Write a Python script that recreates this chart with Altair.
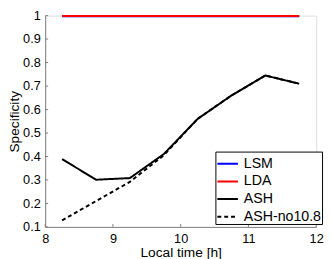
import altair as alt
import pandas as pd

hours = [8.25, 8.75, 9.25, 9.75, 10.25, 10.75, 11.25, 11.75]
lsm = [0.997, 0.997, 0.997, 0.997, 0.997, 0.997, 0.997, 0.997]
lda = [0.998, 0.998, 0.998, 0.998, 0.998, 0.998, 0.998, 0.998]
ash = [0.389, 0.301, 0.308, 0.410, 0.560, 0.660, 0.745, 0.710]
ash_no = [0.128, 0.210, 0.292, 0.405, 0.560, 0.660, 0.745, 0.710]

series_names = ["LSM", "LDA", "ASH", "ASH-no10.8"]
series_colors = ["#0000ff", "#ff0000", "#000000", "#000000"]
x_ticks = [8, 9, 10, 11, 12]
y_ticks = [0.1, 0.2, 0.3, 0.4, 0.5, 0.6, 0.7, 0.8, 0.9, 1.0]

rows = []
for name, vals in zip(series_names, [lsm, lda, ash, ash_no]):
    for h, v in zip(hours, vals):
        rows.append({"hour": h, "spec": v, "series": name})
df = pd.DataFrame(rows)

W, H = 277, 216
LEFT = 38
TOP = 5
FONT = "Liberation Sans"
GRAY = "#808080"

xscale = alt.Scale(domain=[8, 12], nice=False, zero=False)
yscale = alt.Scale(domain=[0.1, 1.0], nice=False, zero=False)

xaxis = alt.Axis(values=x_ticks, format="~g", title="Local time [h]",
                 tickSize=0, labelPadding=6, grid=False,
                 labelOverlap=False, labelFlush=False,
                 domainColor=GRAY, labelFontSize=13, titleFontSize=14,
                 titleFontWeight="normal", titlePadding=0,
                 labelFont=FONT, titleFont=FONT, labelColor="black",
                 titleColor="black")
yaxis = alt.Axis(values=y_ticks, format="~g", title="Specificity",
                 tickSize=0, labelPadding=5, grid=False,
                 labelOverlap=False, labelFlush=False,
                 domainColor=GRAY, labelFontSize=13, titleFontSize=14,
                 titleFontWeight="normal", titlePadding=1,
                 labelFont=FONT, titleFont=FONT, labelColor="black",
                 titleColor="black")

lines = alt.Chart(df).mark_line(strokeWidth=2, clip=False).encode(
    x=alt.X("hour:Q", scale=xscale, axis=xaxis),
    y=alt.Y("spec:Q", scale=yscale, axis=yaxis),
    color=alt.Color("series:N",
                    scale=alt.Scale(domain=series_names, range=series_colors),
                    sort=series_names,
                    legend=alt.Legend(title=None, orient="none",
                                      legendX=174, legendY=144 - TOP,
                                      strokeColor="black",
                                      fillColor="white", padding=1,
                                      symbolType="stroke", symbolSize=441,
                                      symbolStrokeWidth=2, labelFontSize=14.5,
                                      labelFont=FONT, labelOffset=5,
                                      rowPadding=-4, labelColor="black")),
    strokeDash=alt.StrokeDash("series:N",
                              scale=alt.Scale(domain=series_names,
                                              range=[[1, 0], [1, 0], [1, 0], [4, 3]]),
                              sort=series_names, legend=None),
    order=alt.Order("series:N", sort="descending"),
)

ytick_df = pd.DataFrame({"v": y_ticks})
xtick_df = pd.DataFrame({"v": x_ticks})

yt = alt.Chart(ytick_df).mark_rule(color=GRAY, strokeWidth=1).encode(
    y=alt.Y("v:Q", scale=yscale, axis=yaxis), x=alt.value(0), x2=alt.value(3))
xt = alt.Chart(xtick_df).mark_rule(color=GRAY, strokeWidth=1).encode(
    x=alt.X("v:Q", scale=xscale, axis=xaxis), y=alt.value(H), y2=alt.value(H - 3))

chart = alt.layer(lines, yt, xt).properties(
    width=W, height=H,
    autosize=alt.AutoSizeParams(type="none"),
    padding={"left": LEFT, "top": TOP, "right": 8, "bottom": 30},
).configure_view(stroke=None).configure(background="white")

chart.save("out.html", embed_options={"renderer": "svg", "actions": False})
